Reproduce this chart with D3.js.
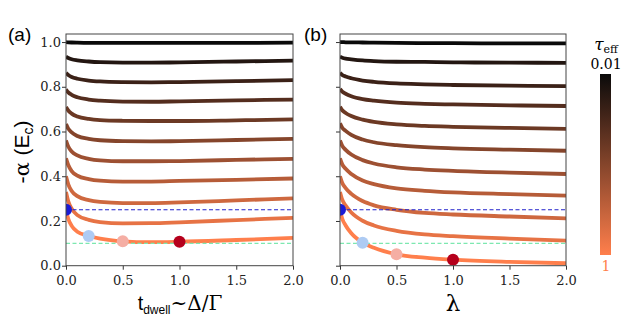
<!DOCTYPE html>
<html>
<head>
<meta charset="utf-8">
<script src="https://cdn.jsdelivr.net/npm/d3@7"></script>
<style>
    body { margin: 0; background: #fff; }
    svg { display: block; }
</style>
</head>
<body>
<div id="chart"></div>
<script>
// x samples shared by every curve
const xSamples = [0, 0.02, 0.05, 0.1, 0.2, 0.3, 0.5, 0.75, 1.0, 1.5, 2.0];

// tau_eff of each curve (0.01 at the top, 1 at the bottom)
const tauValues = [0.01, 0.109, 0.208, 0.307, 0.406, 0.505, 0.604, 0.703, 0.802, 0.901, 1.0];

// panel (a): -alpha vs t_dwell, one row per tau
const alphaVsTdwell = [
    [1.000, 0.999, 0.998, 0.997, 0.996, 0.996, 0.996, 0.996, 0.996, 0.996, 0.997],
    [0.934, 0.929, 0.923, 0.918, 0.913, 0.910, 0.908, 0.908, 0.909, 0.913, 0.917],
    [0.862, 0.853, 0.844, 0.836, 0.828, 0.824, 0.821, 0.820, 0.821, 0.825, 0.830],
    [0.788, 0.775, 0.764, 0.753, 0.743, 0.738, 0.734, 0.733, 0.735, 0.739, 0.743],
    [0.710, 0.694, 0.680, 0.667, 0.656, 0.651, 0.648, 0.647, 0.647, 0.650, 0.654],
    [0.634, 0.613, 0.596, 0.580, 0.567, 0.561, 0.557, 0.556, 0.557, 0.562, 0.567],
    [0.560, 0.533, 0.511, 0.493, 0.478, 0.471, 0.467, 0.467, 0.468, 0.473, 0.478],
    [0.480, 0.450, 0.423, 0.403, 0.387, 0.380, 0.376, 0.376, 0.379, 0.384, 0.390],
    [0.400, 0.364, 0.334, 0.311, 0.293, 0.285, 0.280, 0.280, 0.283, 0.292, 0.301],
    [0.330, 0.288, 0.255, 0.226, 0.205, 0.195, 0.189, 0.190, 0.194, 0.204, 0.214],
    [0.250, 0.210, 0.178, 0.152, 0.133, 0.121, 0.109, 0.105, 0.107, 0.115, 0.124]
];

// panel (b): -alpha vs lambda
const alphaVsLambda = [
    [1.000, 1.000, 0.999, 0.999, 0.998, 0.997, 0.996, 0.995, 0.995, 0.994, 0.994],
    [0.934, 0.930, 0.926, 0.923, 0.918, 0.915, 0.912, 0.911, 0.909, 0.908, 0.907],
    [0.863, 0.853, 0.846, 0.838, 0.828, 0.822, 0.815, 0.811, 0.808, 0.805, 0.803],
    [0.790, 0.778, 0.769, 0.758, 0.745, 0.738, 0.729, 0.724, 0.721, 0.717, 0.714],
    [0.711, 0.695, 0.683, 0.669, 0.653, 0.643, 0.632, 0.625, 0.621, 0.616, 0.612],
    [0.637, 0.617, 0.603, 0.585, 0.564, 0.552, 0.539, 0.530, 0.525, 0.519, 0.514],
    [0.560, 0.536, 0.518, 0.497, 0.472, 0.457, 0.440, 0.430, 0.424, 0.416, 0.410],
    [0.480, 0.453, 0.433, 0.410, 0.381, 0.365, 0.346, 0.335, 0.328, 0.320, 0.313],
    [0.400, 0.370, 0.347, 0.321, 0.289, 0.270, 0.250, 0.236, 0.229, 0.220, 0.212],
    [0.330, 0.295, 0.269, 0.238, 0.201, 0.180, 0.156, 0.140, 0.132, 0.121, 0.112],
    [0.250, 0.210, 0.180, 0.145, 0.103, 0.080, 0.051, 0.036, 0.027, 0.017, 0.011]
];

// highlighted points on the tau = 1 curve
const markerX = [0, 0.2, 0.5, 1.0];
const markerYa = [0.25, 0.133, 0.109, 0.107];
const markerYb = [0.25, 0.103, 0.051, 0.027];
const markerColors = ["#1a1ad6", "#aecbf3", "#f5aea4", "#b5001c"];

// horizontal reference levels
const refLevels = [0.25, 0.1];
const refColors = ["#2222cc", "#7de8b0"];

const xTicks = [0, 0.5, 1.0, 1.5, 2.0];
const yTicks = [0, 0.2, 0.4, 0.6, 0.8, 1.0];
const cbarLabels = ["0.01", "1"];

const width = 634;
const height = 324;
const plotTop = 34, plotBottom = 265.7;

const colorScale = d3.scaleLinear()
    .domain([0.01, 1])
    .range(["#0a0a0a", "#ff7f4c"])
    .interpolate(d3.interpolateRgb);

const svg = d3.select("#chart")
    .append("svg")
    .attr("width", width)
    .attr("height", height);

const yScale = d3.scaleLinear().domain([0, 1.036]).range([plotBottom, plotTop]);

const tickFont = "'DejaVu Serif', serif";
const sansFont = "'Liberation Sans', Arial, sans-serif";

function drawPanel(id, left, right, curves, markerY, showYLabels) {
    const xScale = d3.scaleLinear().domain([0, 2]).range([left, right]);
    const g = svg.append("g").attr("class", "panel-" + id);

    g.append("clipPath")
        .attr("id", "clip-" + id)
        .append("rect")
        .attr("x", left)
        .attr("y", plotTop)
        .attr("width", right - left)
        .attr("height", plotBottom - plotTop);

    const plot = g.append("g").attr("clip-path", "url(#clip-" + id + ")");

    const line = d3.line()
        .x((d, i) => xScale(xSamples[i]))
        .y(d => yScale(d))
        .curve(d3.curveMonotoneX);

    plot.selectAll(".curve")
        .data(curves)
        .enter().append("path")
        .attr("class", "curve")
        .attr("d", d => line(d))
        .attr("fill", "none")
        .attr("stroke", (d, i) => colorScale(tauValues[i]))
        .attr("stroke-width", 3.8);

    plot.selectAll(".ref")
        .data(refLevels)
        .enter().append("line")
        .attr("class", "ref")
        .attr("x1", xScale(0))
        .attr("x2", xScale(2))
        .attr("y1", d => yScale(d))
        .attr("y2", d => yScale(d))
        .attr("stroke", (d, i) => refColors[i])
        .attr("stroke-width", 1.1)
        .attr("stroke-dasharray", "4,2.5");

    plot.selectAll(".marker")
        .data(markerX)
        .enter().append("circle")
        .attr("class", "marker")
        .attr("cx", d => xScale(d))
        .attr("cy", (d, i) => yScale(markerY[i]))
        .attr("r", 6)
        .attr("fill", (d, i) => markerColors[i]);

    const xAxis = g.append("g")
        .attr("transform", "translate(0," + plotBottom + ")")
        .call(d3.axisBottom(xScale).tickValues(xTicks).tickFormat(d3.format(".1f")).tickSize(4).tickSizeOuter(0));
    xAxis.select(".domain").remove();
    xAxis.selectAll("line").attr("stroke", "#333");
    xAxis.selectAll("text")
        .style("font-family", tickFont)
        .style("font-size", "13px")
        .attr("fill", "#222")
        .attr("dy", "0.95em");

    const yAxis = g.append("g")
        .attr("transform", "translate(" + left + ",0)")
        .call(d3.axisLeft(yScale).tickValues(yTicks).tickFormat(showYLabels ? d3.format(".1f") : "").tickSize(4).tickSizeOuter(0));
    yAxis.select(".domain").remove();
    yAxis.selectAll("line").attr("stroke", "#333");
    yAxis.selectAll("text")
        .style("font-family", tickFont)
        .style("font-size", "13px")
        .attr("fill", "#222")
        .attr("x", -5);

    g.append("rect")
        .attr("x", left)
        .attr("y", plotTop)
        .attr("width", right - left)
        .attr("height", plotBottom - plotTop)
        .attr("fill", "none")
        .attr("stroke", "#444")
        .attr("stroke-width", 1);

    return xScale;
}

const xa = drawPanel("a", 66, 293, alphaVsTdwell, markerYa, true);
const xb = drawPanel("b", 340, 566, alphaVsLambda, markerYb, false);

// panel letters
svg.append("text").attr("x", 8).attr("y", 41)
    .style("font-family", sansFont).style("font-size", "19px").text("(a)");
svg.append("text").attr("x", 304).attr("y", 41)
    .style("font-family", sansFont).style("font-size", "19px").text("(b)");

// y label
const yLabel = svg.append("text")
    .attr("transform", "translate(29,152) rotate(-90)")
    .style("text-anchor", "middle")
    .style("font-size", "21px");
yLabel.append("tspan").style("font-family", tickFont).text("-α ");
yLabel.append("tspan").style("font-family", sansFont).text("(E");
yLabel.append("tspan").style("font-family", sansFont).style("font-size", "14px").attr("dy", 4).text("c");
yLabel.append("tspan").style("font-family", sansFont).attr("dy", -4).text(")");

// x labels
const xLabelA = svg.append("text")
    .attr("x", 180)
    .attr("y", 310)
    .style("text-anchor", "middle");
xLabelA.append("tspan").style("font-family", sansFont).style("font-size", "20px").text("t");
xLabelA.append("tspan").style("font-family", sansFont).style("font-size", "12px").attr("dy", 4).text("dwell");
xLabelA.append("tspan").style("font-family", tickFont).style("font-size", "20px").attr("dy", -4).text("~Δ/Γ");

svg.append("text")
    .attr("x", (xb(0) + xb(2)) / 2)
    .attr("y", 311)
    .style("text-anchor", "middle")
    .style("font-family", tickFont)
    .style("font-size", "23px")
    .text("λ");

// colorbar
const defs = svg.append("defs");
const grad = defs.append("linearGradient")
    .attr("id", "cbar")
    .attr("x1", 0).attr("y1", 0).attr("x2", 0).attr("y2", 1);
grad.selectAll("stop")
    .data(tauValues)
    .enter().append("stop")
    .attr("offset", d => (d - 0.01) / 0.99)
    .attr("stop-color", d => colorScale(d));

svg.append("rect")
    .attr("x", 600)
    .attr("y", 74)
    .attr("width", 11)
    .attr("height", 181)
    .attr("fill", "url(#cbar)");

const cbTitle = svg.append("text")
    .attr("x", 606)
    .attr("y", 50)
    .style("text-anchor", "middle")
    .style("font-family", tickFont);
cbTitle.append("tspan").style("font-size", "17px").style("font-style", "italic").text("τ");
cbTitle.append("tspan").style("font-size", "11px").attr("dy", 3).text("eff");

svg.append("text")
    .attr("x", 606)
    .attr("y", 69)
    .style("text-anchor", "middle")
    .style("font-family", tickFont)
    .style("font-size", "14px")
    .text(cbarLabels[0]);

svg.append("text")
    .attr("x", 606)
    .attr("y", 271)
    .style("text-anchor", "middle")
    .style("font-family", tickFont)
    .style("font-size", "14px")
    .attr("fill", colorScale(1))
    .text(cbarLabels[1]);
</script>
</body>
</html>
